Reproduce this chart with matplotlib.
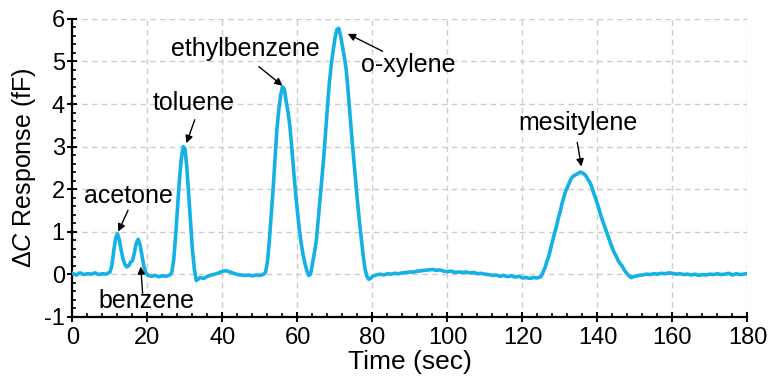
import matplotlib.pyplot as plt
from matplotlib.ticker import MultipleLocator

plt.rcParams['font.family'] = ['Liberation Sans', 'DejaVu Sans']
plt.rcParams['mathtext.fontset'] = 'custom'
plt.rcParams['mathtext.rm'] = 'Liberation Sans'
plt.rcParams['mathtext.it'] = 'Liberation Sans:italic'
plt.rcParams['axes.unicode_minus'] = False

# trace (time in s, response in fF)
time = [0, 1, 2, 3, 4, 5, 6, 7, 8, 9, 10,
        10.5, 11, 11.5, 12, 12.5, 13, 13.5, 14, 14.5, 15, 15.5, 16, 16.5,
        17, 17.5, 18, 18.5, 19, 19.5, 20, 21, 22, 23, 24, 25, 26,
        26.5, 27, 27.5, 28, 28.5, 29, 29.5, 30, 30.5, 31, 31.5, 32, 32.5,
        33, 33.5, 34, 35, 36, 37, 38, 39, 40, 41, 42, 43, 44, 45, 46, 47,
        48, 49, 50, 51,
        51.5, 52, 52.5, 53, 53.5, 54, 54.5, 55, 55.5, 56, 56.5, 57, 57.5,
        58, 58.5, 59, 59.5, 60, 60.5, 61, 61.5, 62, 62.5, 63, 63.5, 64,
        64.5, 65, 65.5, 66, 66.5, 67, 67.5, 68, 68.5, 69, 69.5, 70, 70.5,
        71, 71.5, 72, 72.5, 73, 73.5, 74, 74.5, 75, 75.5, 76, 76.5, 77,
        77.5, 78, 78.5, 79, 79.5,
        80, 81, 82, 83, 84, 85, 86, 87, 88, 89, 90, 91, 92, 93, 94, 95,
        96, 97, 98, 99, 100, 101, 102, 103, 104, 105, 106, 107, 108, 109,
        110, 111, 112, 113, 114, 115, 116, 117, 118, 119, 120, 121, 122,
        123, 124, 125,
        125.5, 126, 126.5, 127, 127.5, 128, 128.5, 129, 129.5, 130, 130.5,
        131, 131.5, 132, 132.5, 133, 133.5, 134, 134.5, 135, 135.5, 136,
        136.5, 137, 137.5, 138, 138.5, 139, 139.5, 140, 140.5, 141, 141.5,
        142, 142.5, 143, 143.5, 144, 144.5, 145, 145.5, 146, 146.5, 147,
        147.5, 148, 148.5, 149, 149.5,
        150, 151, 152, 153, 154, 155, 156, 157, 158, 159, 160, 161, 162,
        163, 164, 165, 166, 167, 168, 169, 170, 171, 172, 173, 174, 175,
        176, 177, 178, 179, 180]
response = [0.02, -0.02, 0.03, -0.01, 0.01, 0.0, 0.03, -0.01, 0.01, 0.0, 0.05,
            0.2, 0.55, 0.85, 0.95, 0.8, 0.55, 0.35, 0.22, 0.17, 0.2, 0.28, 0.32, 0.5,
            0.72, 0.82, 0.7, 0.45, 0.2, 0.05, -0.02, -0.05, -0.03, -0.06, -0.04, -0.05, -0.02,
            0.05, 0.35, 0.9, 1.55, 2.2, 2.7, 3.0, 2.95, 2.5, 1.85, 1.2, 0.55, 0.12,
            -0.15, -0.12, -0.08, -0.1, -0.05, -0.02, 0.0, 0.03, 0.07, 0.08, 0.05, 0.02, -0.01, -0.02, -0.03, -0.02,
            -0.04, -0.02, -0.03, 0.0,
            0.05, 0.3, 0.8, 1.4, 2.0, 2.7, 3.4, 3.85, 4.2, 4.4, 4.35, 4.05, 3.8,
            3.45, 2.95, 2.4, 1.9, 1.45, 1.05, 0.72, 0.45, 0.25, 0.08, -0.03, 0.0, 0.25,
            0.5, 0.77, 1.25, 1.75, 2.25, 2.75, 3.35, 3.95, 4.5, 4.92, 5.25, 5.55, 5.75,
            5.78, 5.6, 5.35, 5.1, 4.8, 4.3, 3.75, 3.2, 2.7, 2.2, 1.7, 1.25, 0.85,
            0.45, 0.12, -0.05, -0.12, -0.1,
            -0.05, -0.02, 0.0, -0.02, 0.01, 0.0, 0.02, 0.01, 0.03, 0.04, 0.05, 0.05, 0.07, 0.08, 0.09, 0.1,
            0.11, 0.09, 0.1, 0.07, 0.06, 0.07, 0.04, 0.05, 0.04, 0.05, 0.03, 0.04, 0.01, 0.02,
            0.0, -0.01, -0.03, -0.02, -0.05, -0.03, -0.06, -0.04, -0.07, -0.05, -0.09, -0.08, -0.1,
            -0.08, -0.09, -0.05,
            0.05, 0.15, 0.3, 0.42, 0.6, 0.78, 0.95, 1.1, 1.3, 1.45, 1.65,
            1.8, 1.95, 2.05, 2.15, 2.25, 2.3, 2.33, 2.35, 2.38, 2.4, 2.38,
            2.35, 2.3, 2.22, 2.15, 2.05, 1.9, 1.78, 1.65, 1.5, 1.35, 1.22,
            1.1, 0.97, 0.85, 0.72, 0.6, 0.5, 0.42, 0.32, 0.25, 0.2, 0.12,
            0.05, 0.0, -0.05, -0.08, -0.06,
            -0.05, -0.03, -0.02, 0.0, -0.01, 0.01, 0.0, 0.02, 0.01, 0.03, 0.02, 0.0, 0.01,
            -0.01, 0.0, -0.02, 0.0, -0.03, -0.01, -0.02, 0.0, -0.01, 0.01, -0.01, 0.0, 0.02,
            -0.02, 0.01, -0.01, 0.0, 0.02]

# peak labels: text position, arrow tail, arrow head
labels = ['acetone', 'benzene', 'toluene', 'ethylbenzene', 'o-xylene', 'mesitylene']
text_xy = [(14.8, 1.84), (19.7, -0.64), (32.3, 4.02), (46.0, 5.3), (89.5, 4.92), (134.8, 3.55)]
tail_xy = [(14.8, 1.5), (18.7, -0.45), (32.6, 3.63), (49.7, 4.88), (82.7, 5.24), (134.6, 3.1)]
head_xy = [(12.2, 1.0), (18.2, 0.18), (30.4, 3.08), (56.0, 4.43), (73.4, 5.65), (135.7, 2.53)]

fig = plt.figure(figsize=(7.68, 3.87), dpi=100)
ax = fig.add_axes([0.0944, 0.1817, 0.8789, 0.7693])

ax.plot(time, response, color='#14b1e7', lw=2.6, zorder=3)

for lab, t, a, h in zip(labels, text_xy, tail_xy, head_xy):
    ax.text(t[0], t[1], lab, fontsize=18, ha='center', va='center')
    ax.annotate('', xy=h, xytext=a,
                arrowprops=dict(arrowstyle='-|>', color='black', lw=1.0,
                                mutation_scale=11, shrinkA=0, shrinkB=0))

ax.set_xlim(0, 180)
ax.set_ylim(-1, 6)
ax.xaxis.set_major_locator(MultipleLocator(20))
ax.xaxis.set_minor_locator(MultipleLocator(4))
ax.yaxis.set_major_locator(MultipleLocator(1))
ax.yaxis.set_minor_locator(MultipleLocator(0.2))
ax.tick_params(which='major', direction='inout', length=7, width=1.4, labelsize=17, pad=4)
ax.tick_params(which='minor', direction='in', length=3, width=1.2)
ax.tick_params(axis='y', which='major', pad=2)

ax.grid(True, which='major', color='#cccccc', ls=(0, (4, 3)), lw=1.0)
for s in ['top', 'right']:
    ax.spines[s].set_visible(False)
for s in ['left', 'bottom']:
    ax.spines[s].set_linewidth(1.6)

ax.set_xlabel('Time (sec)', fontsize=19, labelpad=1)
ax.set_ylabel('\u0394$\\mathit{C}$ Response (fF)', fontsize=18, labelpad=4)

fig.savefig('out.png', dpi=100)
